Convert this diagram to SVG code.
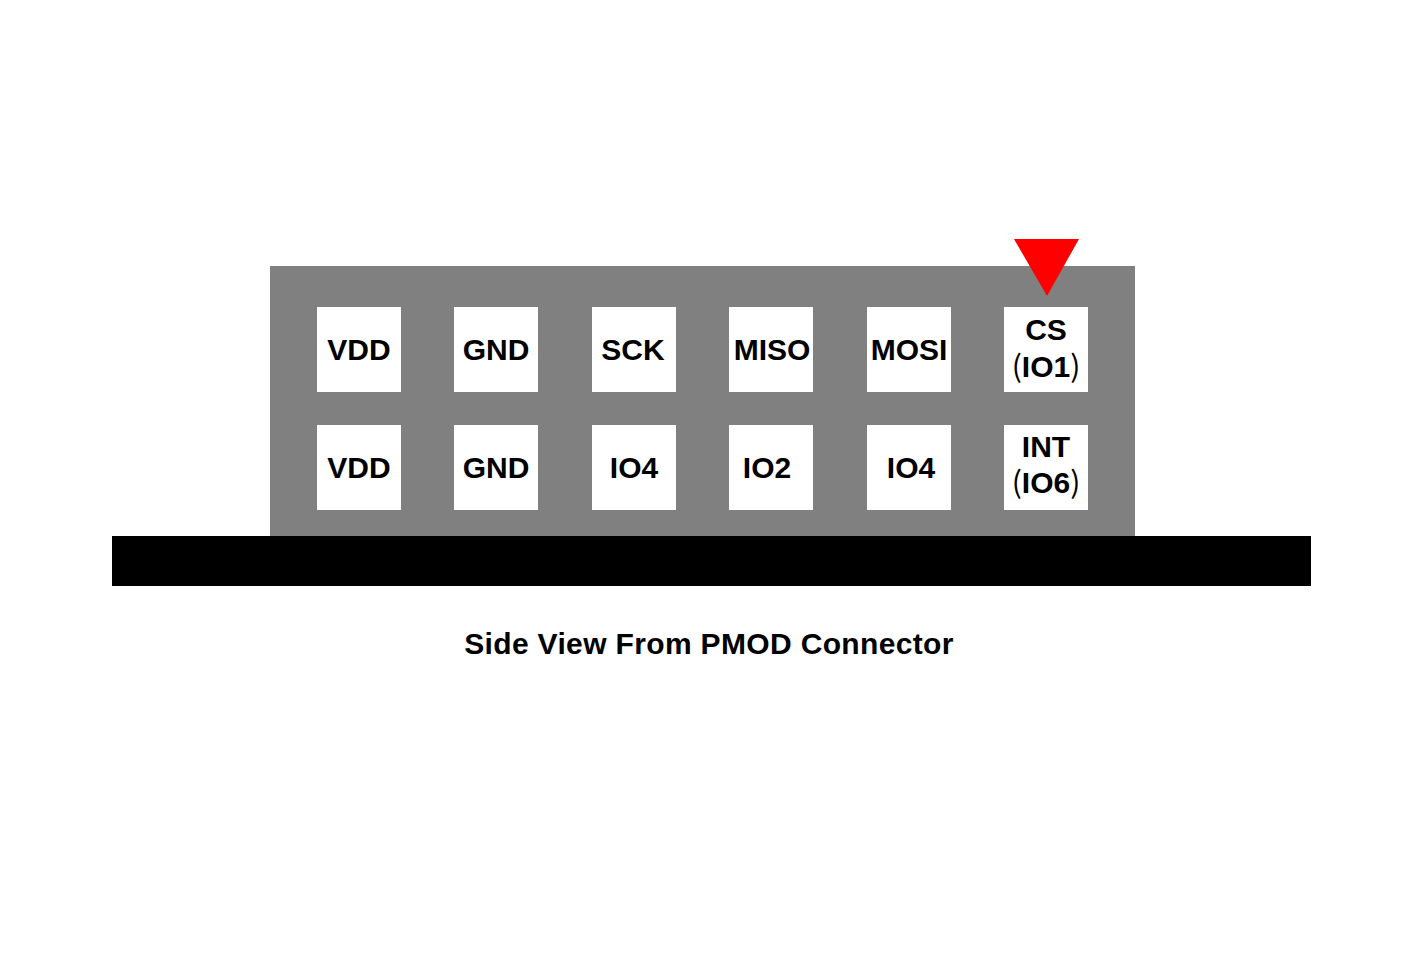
<svg xmlns="http://www.w3.org/2000/svg" width="1401" height="961" viewBox="0 0 1401 961">
<style>
.pin{fill:#ffffff}
.t{font-family:"Liberation Sans",Arial,sans-serif;font-weight:bold;font-size:30px;fill:#000;text-anchor:middle}
.p{font-family:"Noto Sans CJK JP","Noto Sans",sans-serif;font-weight:normal}
.cap{font-family:"Liberation Sans",Arial,sans-serif;font-weight:bold;font-size:30px;letter-spacing:0.35px;fill:#000;text-anchor:middle}
</style>
<rect width="1401" height="961" fill="#fff"/>
<g id="body"><rect x="270" y="266" width="865" height="270" fill="#808080"/></g>
<g id="board"><rect x="112" y="536" width="1199" height="50" fill="#000"/></g>
<g id="pin1"><rect class="pin" x="317" y="307" width="84" height="85"/><text class="t" x="359" y="360">VDD</text></g>
<g id="pin2"><rect class="pin" x="454" y="307" width="84" height="85"/><text class="t" x="496" y="360">GND</text></g>
<g id="pin3"><rect class="pin" x="592" y="307" width="84" height="85"/><text class="t" x="633" y="360">SCK</text></g>
<g id="pin4"><rect class="pin" x="729" y="307" width="84" height="85"/><text class="t" x="772" y="360">MISO</text></g>
<g id="pin5"><rect class="pin" x="867" y="307" width="84" height="85"/><text class="t" x="909" y="360">MOSI</text></g>
<g id="pin6"><rect class="pin" x="1004" y="307" width="84" height="85"/><text class="t" x="1046" y="340">CS</text><text class="t" x="1046" y="377"><tspan class="p">(</tspan>IO1<tspan class="p">)</tspan></text></g>
<g id="pin7"><rect class="pin" x="317" y="425" width="84" height="85"/><text class="t" x="359" y="478">VDD</text></g>
<g id="pin8"><rect class="pin" x="454" y="425" width="84" height="85"/><text class="t" x="496" y="478">GND</text></g>
<g id="pin9"><rect class="pin" x="592" y="425" width="84" height="85"/><text class="t" x="634" y="478">IO4</text></g>
<g id="pin10"><rect class="pin" x="729" y="425" width="84" height="85"/><text class="t" x="767" y="478">IO2</text></g>
<g id="pin11"><rect class="pin" x="867" y="425" width="84" height="85"/><text class="t" x="911" y="478">IO4</text></g>
<g id="pin12"><rect class="pin" x="1004" y="425" width="84" height="85"/><text class="t" x="1046" y="457">INT</text><text class="t" x="1046" y="493"><tspan class="p">(</tspan>IO6<tspan class="p">)</tspan></text></g>
<g id="marker"><polygon points="1014,239 1079,239 1047,296" fill="#ff0000"/></g>
<g id="connectors"></g>
<text class="cap" x="709" y="654">Side View From PMOD Connector</text>
</svg>
